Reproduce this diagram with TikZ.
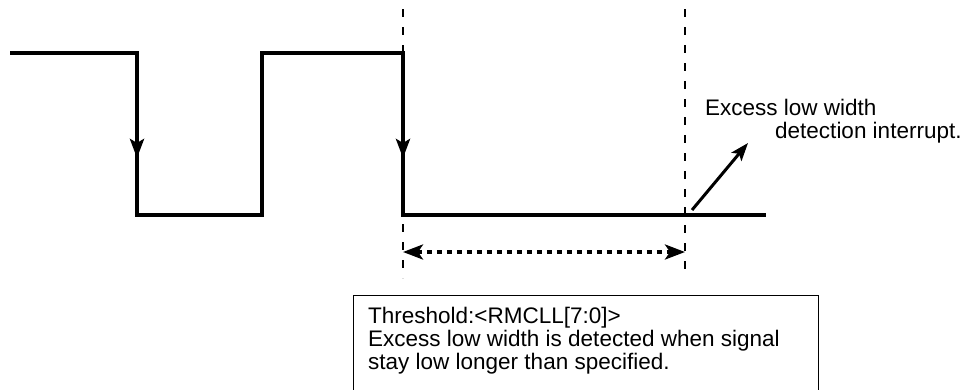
\documentclass[tikz,border=0pt]{standalone}
\usepackage{fontspec}
\setmainfont{Liberation Sans}
\usetikzlibrary{arrows.meta}
\begin{document}
\begin{tikzpicture}[x=1pt,y=-1pt,
    font=\fontsize{22.5}{23}\selectfont,
    wave/.style={line width=4pt},
    fall/.style={line width=4pt,-{Stealth[length=19pt,width=14pt,inset=4pt]}},
    guide/.style={line width=2pt,dash pattern=on 8pt off 10pt,dash phase=9pt},
    span/.style={line width=3.5pt,dash pattern=on 5pt off 5pt,
        {Stealth[length=20pt,width=15pt,inset=5pt]}-{Stealth[length=20pt,width=15pt,inset=5pt]}},
    pointer/.style={line width=3pt,-{Stealth[length=18pt,width=13pt,inset=4pt]}},
    txt/.style={anchor=base west,inner sep=0pt}]
    \clip (0,0) rectangle (974,389);

    % Signal corners
    \coordinate (s0) at (10,53);
    \coordinate (f1) at (137,53);
    \coordinate (l1) at (137,215);
    \coordinate (r1) at (262,215);
    \coordinate (h1) at (262,53);
    \coordinate (f2) at (403,53);
    \coordinate (l2) at (403,215);
    \coordinate (s1) at (766,215);

    % Signal
    \draw[wave] (s0) -- (f1) -- (l1) -- (r1) -- (h1) -- (f2) -- (l2) -- (s1);
    \draw[fall] (f1) -- (137,158);
    \draw[fall] (f2) -- (403,158);

    % Guide lines
    \draw[guide] (403,0) -- (f2);
    \draw[guide] (l2) -- (403,278);
    \draw[guide] (685,0) -- (685,278);

    % Low width span
    \coordinate (m1) at (403,252);
    \coordinate (m2) at (685,252);
    \draw[span] (m1) -- (m2);

    % Interrupt label
    \node[txt] (lbl1) at (705,115) {Excess low width};
    \node[txt] (lbl2) at (775,138) {detection interrupt.};
    \coordinate (p0) at (692,210);
    \coordinate (p1) at (748,143);
    \draw[pointer] (p0) -- (p1);

    % Threshold note
    \node[draw,line width=1pt,anchor=north west,minimum width=465pt,minimum height=120pt] (frame) at (353,295) {};
    \node[txt] (note1) at (368,323) {Threshold:<RMCLL[7:0]>};
    \node[txt] (note2) at (368,346) {Excess low width is detected when signal};
    \node[txt] (note3) at (368,369) {stay low longer than specified.};
\end{tikzpicture}
\end{document}
